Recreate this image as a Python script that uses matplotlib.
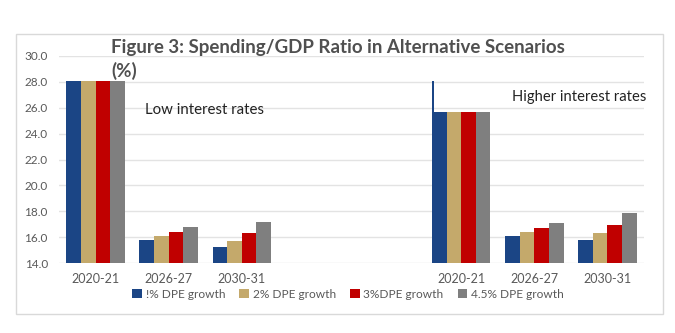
"""Figure 3: Spending/GDP ratio in alternative scenarios."""

import numpy as np
import matplotlib.pyplot as plt
from matplotlib.patches import Rectangle

plt.rcParams['font.family'] = ['Lato', 'DejaVu Sans']

# categories: low-rate block, two empty slots, higher-rate block
categories = ['2020-21', '2026-27', '2030-31', '', '', '2020-21', '2026-27', '2030-31']
series_names = ['!% DPE growth', '2% DPE growth', '3%DPE growth', '4.5% DPE growth']
growth_1 = [28.1, 15.8, 15.2, np.nan, np.nan, 25.7, 16.1, 15.8]
growth_2 = [28.1, 16.1, 15.7, np.nan, np.nan, 25.7, 16.4, 16.3]
growth_3 = [28.1, 16.4, 16.3, np.nan, np.nan, 25.7, 16.7, 16.9]
growth_45 = [28.1, 16.8, 17.2, np.nan, np.nan, 25.7, 17.1, 17.9]
# stray sliver left on the first higher-rate bar
spike_value = 28.1
spike_category = 5

colors = ['#1B4585', '#C4A96B', '#C00000', '#7F7F7F']
grey_text = '#595959'

fig = plt.figure(figsize=(6.75, 3.33), dpi=100)
fig.patches.append(Rectangle((16 / 675, 1 - 314 / 333), 647 / 675, 280 / 333,
                             transform=fig.transFigure, fill=False,
                             edgecolor='#D9D9D9', linewidth=1))
ax = fig.add_axes([59 / 675, 1 - 263 / 333, 585 / 675, 207 / 333])

x = np.arange(len(categories))
width = 0.2
for i, (vals, name, c) in enumerate(zip([growth_1, growth_2, growth_3, growth_45], series_names, colors)):
    ax.bar(x + (i - 1.5) * width, np.array(vals) - 14, bottom=14, width=width,
           color=c, label=name, zorder=3)
ax.bar(spike_category - 2 * width + 0.015, spike_value - 14, bottom=14, width=0.03,
       color=colors[0], zorder=3)

ax.set_xlim(-0.5, len(categories) - 0.5)
ax.set_ylim(14, 30)
ax.set_yticks(np.arange(14, 30.1, 2))
ax.set_yticklabels([f'{v:.1f}' for v in np.arange(14, 30.1, 2)])
ax.set_xticks(x)
ax.set_xticklabels(categories)
ax.tick_params(axis='both', length=0, labelsize=9, colors=grey_text, pad=7)
ax.tick_params(axis='y', labelsize=8.5, pad=8)
ax.grid(axis='y', color='#E3E3E3', linewidth=1, zorder=0)
for s in ax.spines.values():
    s.set_visible(False)

fig.text(111 / 675, 1 - 53 / 333, 'Figure 3: Spending/GDP Ratio in Alternative Scenarios',
         fontsize=13.5, fontweight='bold', color='#505050', va='baseline', ha='left')
fig.text(111 / 675, 1 - 77 / 333, '(%)',
         fontsize=13.5, fontweight='bold', color='#505050', va='baseline', ha='left')
fig.text(145 / 675, 1 - 110 / 333, 'Low interest rates', fontsize=10.8, color='#222222',
         va='center', ha='left')
fig.text(512 / 675, 1 - 97 / 333, 'Higher interest rates', fontsize=10.6, color='#222222',
         va='center', ha='left')

leg = fig.legend(loc='center', bbox_to_anchor=(348 / 675, 1 - 294 / 333), ncol=4,
                 frameon=False, fontsize=8.6, handlelength=0.8, handleheight=0.8,
                 handletextpad=0.3, columnspacing=1.2)
for t in leg.get_texts():
    t.set_color(grey_text)

fig.savefig('out.png', dpi=100)
